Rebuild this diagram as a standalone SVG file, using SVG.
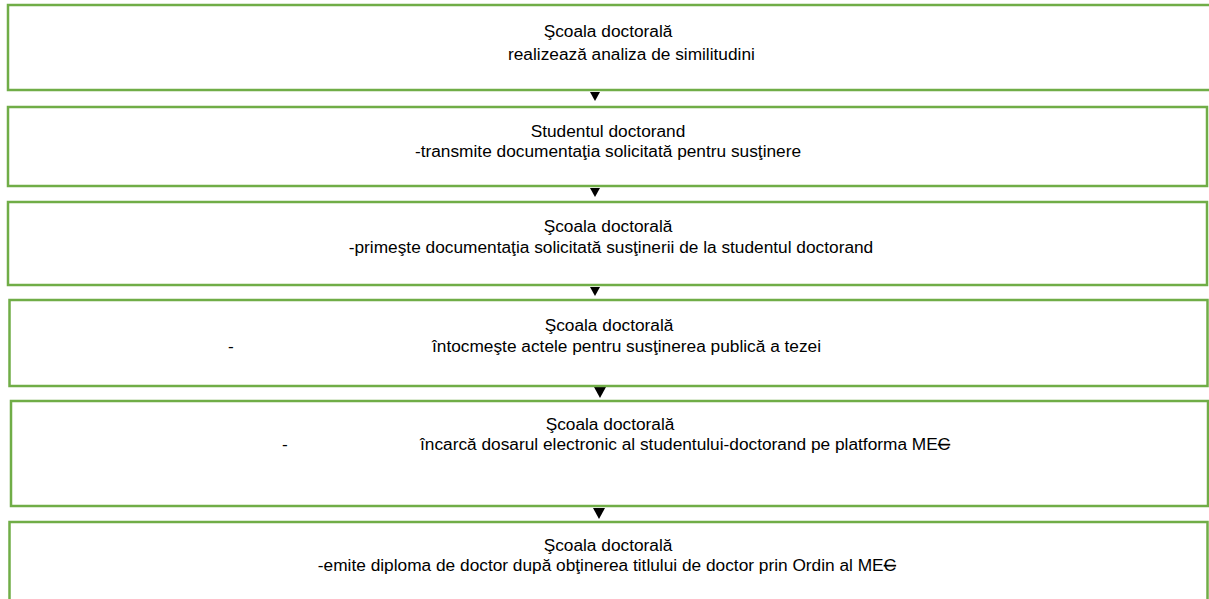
<svg xmlns="http://www.w3.org/2000/svg" width="1209" height="599" viewBox="0 0 1209 599">
<style>
.box{fill:#ffffff;stroke:#70AD47;stroke-width:2.5}
.t{font-family:"Liberation Sans",Arial,sans-serif;font-size:17.3px;fill:#000000}
.m{text-anchor:middle}
.arr{fill:#000000;stroke:none}
.del{text-decoration:line-through}
</style>
<rect width="1209" height="599" fill="#ffffff"/>
<g id="connectors">
<path class="arr" d="M590,92 L600,92 L595,101 Z"/>
<path class="arr" d="M590,188 L600,188 L595,197 Z"/>
<path class="arr" d="M590,287 L600,287 L595,296 Z"/>
<path class="arr" d="M594,387 L606,387 L600,398 Z"/>
<path class="arr" d="M593,508 L605,508 L599,519 Z"/>
</g>
<g id="node1">
<rect class="box" x="8" y="5" width="1205" height="85"/>
<text class="t m" x="608" y="37">Şcoala doctorală</text>
<text class="t" x="508" y="60">realizează analiza de similitudini</text>
</g>
<g id="node2">
<rect class="box" x="8" y="107" width="1199" height="79"/>
<text class="t m" x="608" y="137">Studentul doctorand</text>
<text class="t m" x="608" y="157">-transmite documentaţia solicitată pentru susţinere</text>
</g>
<g id="node3">
<rect class="box" x="8" y="202" width="1199" height="83"/>
<text class="t m" x="608" y="232">Şcoala doctorală</text>
<text class="t m" x="611" y="253">-primeşte documentaţia solicitată susţinerii de la studentul doctorand</text>
</g>
<g id="node4">
<rect class="box" x="9.5" y="300" width="1198" height="86"/>
<text class="t m" x="609" y="331">Şcoala doctorală</text>
<text class="t" y="352"><tspan x="228">-</tspan><tspan x="432">întocmeşte actele pentru susţinerea publică a tezei</tspan></text>
</g>
<g id="node5">
<rect class="box" x="11" y="401" width="1197" height="105"/>
<text class="t m" x="610" y="430">Şcoala doctorală</text>
<text class="t" y="450"><tspan x="282">-</tspan><tspan x="420">încarcă dosarul electronic al studentului-doctorand pe platforma ME</tspan><tspan class="del">C</tspan></text>
</g>
<g id="node6">
<rect class="box" x="9.5" y="522" width="1198" height="90"/>
<text class="t m" x="608" y="551">Şcoala doctorală</text>
<text class="t m" x="607" y="571">-emite diploma de doctor după obţinerea titlului de doctor prin Ordin al ME<tspan class="del">C</tspan></text>
</g>
</svg>
